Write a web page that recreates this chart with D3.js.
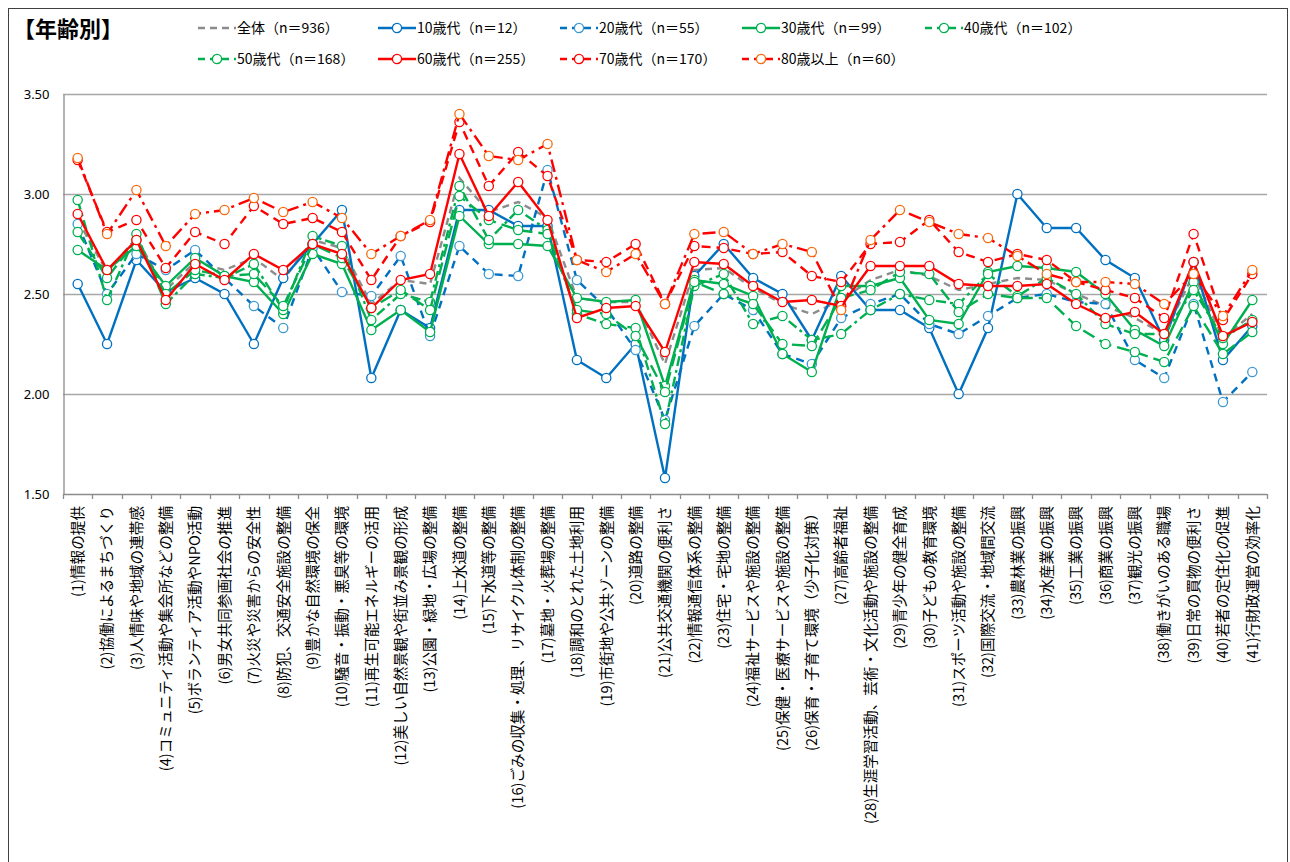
<!DOCTYPE html>
<html>
<head>
<meta charset="utf-8">
<script src="https://cdn.jsdelivr.net/npm/d3@7"></script>
<style>
  body { margin: 0; background: #fff; }
  text { font-family: "Noto Sans CJK JP", "Noto Sans", sans-serif; fill: #000; }
</style>
</head>
<body>
<svg id="chart" width="1290" height="862"></svg>
<script>
// category labels
var categories = [
  "(1)情報の提供", "(2)協働によるまちづくり", "(3)人情味や地域の連帯感",
  "(4)コミュニティ活動や集会所などの整備", "(5)ボランティア活動やNPO活動",
  "(6)男女共同参画社会の推進", "(7)火災や災害からの安全性", "(8)防犯、交通安全施設の整備",
  "(9)豊かな自然環境の保全", "(10)騒音・振動・悪臭等の環境", "(11)再生可能エネルギーの活用",
  "(12)美しい自然景観や街並み景観の形成", "(13)公園・緑地・広場の整備", "(14)上水道の整備",
  "(15)下水道等の整備", "(16)ごみの収集・処理、リサイクル体制の整備", "(17)墓地・火葬場の整備",
  "(18)調和のとれた土地利用", "(19)市街地や公共ゾーンの整備", "(20)道路の整備",
  "(21)公共交通機関の便利さ", "(22)情報通信体系の整備", "(23)住宅・宅地の整備",
  "(24)福祉サービスや施設の整備", "(25)保健・医療サービスや施設の整備", "(26)保育・子育て環境（少子化対策）",
  "(27)高齢者福祉", "(28)生涯学習活動、芸術・文化活動や施設の整備", "(29)青少年の健全育成",
  "(30)子どもの教育環境", "(31)スポーツ活動や施設の整備", "(32)国際交流・地域間交流",
  "(33)農林業の振興", "(34)水産業の振興", "(35)工業の振興", "(36)商業の振興", "(37)観光の振興",
  "(38)働きがいのある職場", "(39)日常の買物の便利さ", "(40)若者の定住化の促進", "(41)行財政運営の効率化"
];

var yTicks = [1.5, 2.0, 2.5, 3.0, 3.5];

// series values, one per category
var all    = [2.87,2.61,2.78,2.52,2.66,2.62,2.68,2.57,2.77,2.73,2.45,2.57,2.55,3.08,2.91,2.96,2.88,2.48,2.46,2.46,2.15,2.62,2.63,2.53,2.45,2.40,2.47,2.57,2.62,2.59,2.52,2.55,2.58,2.57,2.50,2.44,2.38,2.30,2.60,2.28,2.40];
var age10  = [2.55,2.25,2.67,2.51,2.58,2.50,2.25,2.58,2.75,2.92,2.08,2.42,2.33,2.92,2.92,2.84,2.84,2.17,2.08,2.25,1.58,2.59,2.75,2.58,2.50,2.27,2.59,2.42,2.42,2.33,2.00,2.33,3.00,2.83,2.83,2.67,2.58,2.27,2.66,2.17,2.34];
var age20  = [2.85,2.50,2.70,2.62,2.72,2.58,2.44,2.33,2.73,2.51,2.49,2.69,2.29,2.74,2.60,2.59,3.12,2.57,2.43,2.22,1.87,2.34,2.50,2.42,2.20,2.15,2.38,2.45,2.50,2.35,2.30,2.39,2.48,2.50,2.46,2.45,2.17,2.08,2.45,1.96,2.11];
var age30  = [2.72,2.62,2.74,2.54,2.68,2.59,2.56,2.40,2.70,2.65,2.32,2.42,2.31,2.89,2.75,2.75,2.74,2.48,2.46,2.47,2.04,2.57,2.55,2.49,2.20,2.11,2.54,2.54,2.58,2.37,2.35,2.61,2.64,2.63,2.61,2.50,2.32,2.24,2.56,2.25,2.47];
var age40  = [2.97,2.47,2.80,2.45,2.60,2.58,2.65,2.42,2.79,2.74,2.37,2.50,2.46,3.04,2.77,2.92,2.82,2.40,2.35,2.33,1.85,2.54,2.60,2.35,2.39,2.27,2.30,2.42,2.50,2.47,2.45,2.60,2.49,2.58,2.50,2.35,2.30,2.30,2.52,2.28,2.37];
var age50  = [2.81,2.58,2.77,2.50,2.62,2.59,2.60,2.44,2.75,2.68,2.43,2.52,2.42,2.99,2.87,2.82,2.80,2.42,2.40,2.29,2.01,2.56,2.50,2.45,2.25,2.24,2.48,2.52,2.61,2.60,2.41,2.50,2.48,2.48,2.34,2.25,2.21,2.16,2.44,2.20,2.31];
var age60  = [2.90,2.62,2.77,2.47,2.65,2.57,2.70,2.62,2.75,2.70,2.43,2.57,2.60,3.20,2.89,3.06,2.87,2.38,2.43,2.44,2.21,2.66,2.65,2.54,2.46,2.47,2.44,2.64,2.64,2.64,2.55,2.54,2.54,2.55,2.45,2.38,2.41,2.30,2.66,2.29,2.36];
var age70  = [3.17,2.81,2.87,2.63,2.81,2.75,2.94,2.85,2.88,2.81,2.57,2.79,2.86,3.36,3.04,3.21,3.09,2.67,2.66,2.75,2.45,2.74,2.73,2.70,2.71,2.59,2.56,2.75,2.76,2.87,2.71,2.66,2.70,2.67,2.56,2.52,2.48,2.38,2.80,2.37,2.60];
var age80  = [3.18,2.80,3.02,2.74,2.90,2.92,2.98,2.91,2.96,2.88,2.70,2.79,2.87,3.40,3.19,3.17,3.25,2.67,2.61,2.70,2.45,2.80,2.81,2.70,2.75,2.71,2.42,2.77,2.92,2.86,2.80,2.78,2.69,2.60,2.56,2.56,2.55,2.45,2.60,2.39,2.62];

var seriesNames = ["全体（n＝936）", "10歳代（n＝12）", "20歳代（n＝55）", "30歳代（n＝99）", "40歳代（n＝102）",
                   "50歳代（n＝168）", "60歳代（n＝255）", "70歳代（n＝170）", "80歳以上（n＝60）"];
var seriesValues = [all, age10, age20, age30, age40, age50, age60, age70, age80];
var lineColors   = ["#8c8c8c", "#0070c0", "#0070c0", "#00b050", "#00b050", "#00b050", "#ff0000", "#ff0000", "#ff0000"];
var markerColors = [null, "#0070c0", "#3d9ad1", "#00b050", "#00b050", "#00b050", "#ff0000", "#ff0000", "#f76b10"];
var dashes       = ["7,5", null, "8,6", null, "10,4,3,4", "13,6", null, "9,6", "13,5,3,5"];

var svg = d3.select("#chart");

/*====================================================================
       layout
    ==================================================================*/
var plot = { left: 63, right: 1267, top: 94, bottom: 494 };

svg.append("rect")
    .attr("x", 8.5).attr("y", 8.5)
    .attr("width", 1279).attr("height", 900)
    .attr("fill", "#fff")
    .attr("stroke", "#404040")
    .attr("stroke-width", 1);

var x = d3.scaleBand()
    .domain(d3.range(categories.length))
    .range([plot.left, plot.right]);

var y = d3.scaleLinear()
    .domain([1.5, 3.5])
    .range([plot.bottom, plot.top]);

// gridlines
svg.append("g")
    .selectAll("line")
    .data(yTicks.slice(1))
    .join("line")
    .attr("x1", plot.left).attr("x2", plot.right)
    .attr("y1", function (d) { return y(d) + 0.5; })
    .attr("y2", function (d) { return y(d) + 0.5; })
    .attr("stroke", "#a6a6a6")
    .attr("stroke-width", 1.3);

// y axis
var yAxis = svg.append("g")
    .attr("transform", "translate(" + (plot.left + 0.5) + ",0.5)")
    .call(d3.axisLeft(y).tickValues(yTicks).tickFormat(d3.format(".2f")).tickSize(0).tickPadding(14));
yAxis.select(".domain").attr("stroke", "#8c8c8c").attr("stroke-width", 1.3);
yAxis.selectAll("text").style("font-size", "13px").style("font-family", "\"Noto Sans\", sans-serif");

// x axis line + boundary ticks
var xAxis = svg.append("g");
xAxis.append("line")
    .attr("x1", plot.left).attr("x2", plot.right)
    .attr("y1", plot.bottom + 0.5).attr("y2", plot.bottom + 0.5)
    .attr("stroke", "#8c8c8c").attr("stroke-width", 1.3);
xAxis.selectAll(".tick")
    .data(d3.range(categories.length + 1))
    .join("line")
    .attr("x1", function (d) { return Math.round(plot.left + d * x.step()) + 0.5; })
    .attr("x2", function (d) { return Math.round(plot.left + d * x.step()) + 0.5; })
    .attr("y1", plot.bottom).attr("y2", plot.bottom + 5)
    .attr("stroke", "#8c8c8c").attr("stroke-width", 1.3);

// category labels, rotated
svg.append("g")
    .selectAll("text")
    .data(categories)
    .join("text")
    .attr("transform", function (d, i) {
        return "translate(" + (x(i) + x.bandwidth() / 2) + "," + (plot.bottom + 12) + ") rotate(-90)";
    })
    .attr("text-anchor", "end")
    .attr("dy", "0.36em")
    .style("font-size", "14.6px")
    .text(function (d) { return d; });

/*====================================================================
       series
    ==================================================================*/
var line = d3.line()
    .x(function (d, i) { return x(i) + x.bandwidth() / 2; })
    .y(function (d) { return y(d); });

seriesValues.forEach(function (vals, s) {
    var g = svg.append("g");
    g.append("path")
        .datum(vals)
        .attr("d", line)
        .attr("fill", "none")
        .attr("stroke", lineColors[s])
        .attr("stroke-width", 2.4)
        .attr("stroke-dasharray", dashes[s]);
    if (markerColors[s]) {
        g.selectAll("circle")
            .data(vals)
            .join("circle")
            .attr("cx", function (d, i) { return x(i) + x.bandwidth() / 2; })
            .attr("cy", function (d) { return y(d); })
            .attr("r", 4.6)
            .attr("fill", "#fff")
            .attr("stroke", markerColors[s])
            .attr("stroke-width", 1.3);
    }
});

/*====================================================================
       title + legend
    ==================================================================*/
svg.append("text")
    .attr("x", 13).attr("y", 37)
    .style("font-size", "22px")
    .style("font-weight", "bold")
    .text("【年齢別】");

var legendCols = [198, 378, 560, 742, 925];
var legendRows = [28, 59];

var legend = svg.append("g")
    .selectAll("g")
    .data(seriesNames)
    .join("g")
    .attr("transform", function (d, i) {
        var col = i < 5 ? i : i - 5;
        var row = i < 5 ? 0 : 1;
        return "translate(" + legendCols[col] + "," + legendRows[row] + ")";
    });

legend.append("line")
    .attr("x1", 0).attr("x2", 38)
    .attr("y1", 0).attr("y2", 0)
    .attr("stroke", function (d, i) { return lineColors[i]; })
    .attr("stroke-width", 2.4)
    .attr("stroke-dasharray", function (d, i) { return dashes[i] ? "7,5" : null; });

legend.filter(function (d, i) { return markerColors[i]; })
    .append("circle")
    .attr("cx", 19).attr("cy", 0).attr("r", 4.6)
    .attr("fill", "#fff")
    .attr("stroke", function (d, i) { return markerColors[seriesNames.indexOf(d)]; })
    .attr("stroke-width", 1.3);

legend.append("text")
    .attr("x", 39).attr("y", 0)
    .attr("dy", "0.35em")
    .style("font-size", "14px")
    .text(function (d) { return d; });
</script>
</body>
</html>
